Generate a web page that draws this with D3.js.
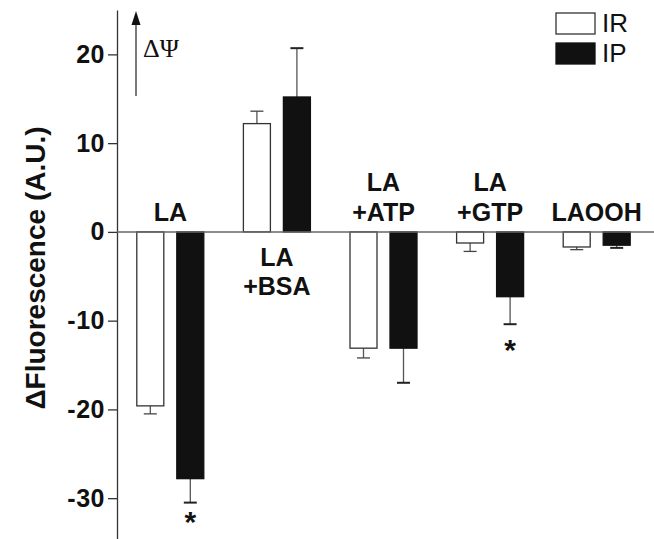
<!DOCTYPE html>
<html>
<head>
<meta charset="utf-8">
<script src="https://cdn.jsdelivr.net/npm/d3@7"></script>
<style>
  body { margin: 0; background: #fff; }
  svg { display: block; }
  .tick text { font-family: Arial, "Liberation Sans", sans-serif; font-weight: bold; }
</style>
</head>
<body>
<div id="chart"></div>
<script>
// groups along the x axis, label lines each
const groups = ['LA', 'LA+BSA', 'LA+ATP', 'LA+GTP', 'LAOOH'];
const groupLabels = [['LA'], ['LA', '+BSA'], ['LA', '+ATP'], ['LA', '+GTP'], ['LAOOH']];
const series = ['IR', 'IP'];
const irValues = [-19.6, 12.2, -13.1, -1.25, -1.7];
const irErrors = [0.9, 1.4, 1.1, 0.95, 0.3];
const ipValues = [-27.8, 15.2, -13.1, -7.3, -1.5];
const ipErrors = [2.7, 5.5, 3.9, 3.1, 0.3];
const ipSignificant = [true, false, false, true, false];
const yTicks = [20, 10, 0, -10, -20, -30];

const width = 654, height = 539;
const axisX = 117;
const sans = 'Arial, "Liberation Sans", sans-serif';

const svg = d3.select('#chart').append('svg')
  .attr('width', width)
  .attr('height', height);

const y = d3.scaleLinear().domain([-34.6, 25]).range([539, 10]);
const x = d3.scaleBand().domain(groups).range([axisX, 650]);
const xs = d3.scaleBand().domain(series).range([-33.5, 33.5]).paddingInner(0.325);

const rows = [];
groups.forEach((g, i) => {
  rows.push({g, s: 'IR', v: irValues[i], e: irErrors[i], star: false});
  rows.push({g, s: 'IP', v: ipValues[i], e: ipErrors[i], star: ipSignificant[i]});
});
const cx = d => x(d.g) + x.bandwidth() / 2 + xs(d.s);

// y axis (plain hyphen for negatives, as in the original)
const yAxis = d3.axisLeft(y)
  .tickValues(yTicks)
  .tickFormat(d => String(d))
  .tickSize(9).tickSizeOuter(0).tickPadding(3);
const ag = svg.append('g')
  .attr('transform', 'translate(' + axisX + ',0)')
  .call(yAxis);
ag.select('.domain').attr('stroke', '#333').attr('stroke-width', 1.3);
ag.selectAll('.tick line').attr('stroke', '#333').attr('stroke-width', 1.3);
ag.selectAll('.tick text')
  .attr('font-size', 25)
  .attr('letter-spacing', 0.5)
  .attr('fill', '#111');

// error bars
const eg = svg.append('g');
rows.forEach(d => {
  const end = d.v < 0 ? d.v - d.e : d.v + d.e;
  const mx = cx(d) + xs.bandwidth() / 2;
  eg.append('line')
    .attr('x1', mx).attr('x2', mx)
    .attr('y1', y(d.v)).attr('y2', y(end))
    .attr('stroke', '#555').attr('stroke-width', 1.3);
  eg.append('line')
    .attr('x1', mx - 6.5).attr('x2', mx + 6.5)
    .attr('y1', y(end)).attr('y2', y(end))
    .attr('stroke', d.s === 'IR' ? '#444' : '#222')
    .attr('stroke-width', d.s === 'IR' ? 1.3 : 2);
});

// bars
svg.append('g').selectAll('rect')
  .data(rows)
  .enter()
  .append('rect')
  .attr('x', d => cx(d))
  .attr('width', xs.bandwidth())
  .attr('y', d => y(Math.max(0, d.v)))
  .attr('height', d => Math.abs(y(d.v) - y(0)))
  .attr('fill', d => d.s === 'IR' ? '#fff' : '#111')
  .attr('stroke', d => d.s === 'IR' ? '#333' : '#111')
  .attr('stroke-width', 1.3);

// zero line
svg.append('line')
  .attr('x1', axisX).attr('x2', width)
  .attr('y1', y(0)).attr('y2', y(0))
  .attr('stroke', '#666').attr('stroke-width', 1.5);

// significance stars, kept inside the picture
svg.append('g').selectAll('text')
  .data(rows.filter(d => d.star))
  .enter()
  .append('text')
  .attr('x', d => cx(d) + xs.bandwidth() / 2)
  .attr('y', d => Math.min(y(d.v - d.e) + 36, height - 7))
  .attr('text-anchor', 'middle')
  .attr('font-family', sans)
  .attr('font-weight', 'bold')
  .attr('font-size', 30)
  .attr('fill', '#111')
  .text('*');

// group labels: above the zero line for negative groups, below for positive
groupLabels.forEach((lines, i) => {
  const g = groups[i];
  const cxG = x(g) + x.bandwidth() / 2;
  const up = irValues[i] < 0;
  const t = svg.append('text')
    .attr('text-anchor', 'middle')
    .attr('font-family', sans)
    .attr('font-weight', 'bold')
    .attr('font-size', 25)
    .attr('fill', '#111');
  lines.forEach((ln, j) => {
    const base = up ? y(0) - 11 - (lines.length - 1 - j) * 30 : y(0) + 34 + j * 29;
    t.append('tspan').attr('x', cxG).attr('y', base).text(ln);
  });
});

// ΔΨ arrow
svg.append('line')
  .attr('x1', 136).attr('x2', 136)
  .attr('y1', 96).attr('y2', 20)
  .attr('stroke', '#333').attr('stroke-width', 1.3);
svg.append('path')
  .attr('d', 'M131.5,25 L136,11 L140.5,25 Z')
  .attr('fill', '#111');
svg.append('text')
  .attr('x', 143).attr('y', 57)
  .attr('font-family', '"Liberation Serif", "DejaVu Serif", serif')
  .attr('font-size', 26)
  .attr('fill', '#111')
  .text('ΔΨ');

// legend
const legend = svg.append('g');
series.forEach((s, i) => {
  legend.append('rect')
    .attr('x', 556).attr('y', 13 + i * 30)
    .attr('width', 39).attr('height', 21)
    .attr('fill', s === 'IR' ? '#fff' : '#111')
    .attr('stroke', s === 'IR' ? '#333' : '#111')
    .attr('stroke-width', 1.3);
  legend.append('text')
    .attr('x', 602).attr('y', 32 + i * 30)
    .attr('font-family', sans)
    .attr('font-size', 26)
    .attr('fill', '#111')
    .text(s);
});

// y axis title
svg.append('text')
  .attr('transform', 'translate(45,268) rotate(-90)')
  .attr('text-anchor', 'middle')
  .attr('font-family', sans)
  .attr('font-weight', 'bold')
  .attr('font-size', 28)
  .attr('fill', '#111')
  .text('ΔFluorescence (A.U.)');
</script>
</body>
</html>
